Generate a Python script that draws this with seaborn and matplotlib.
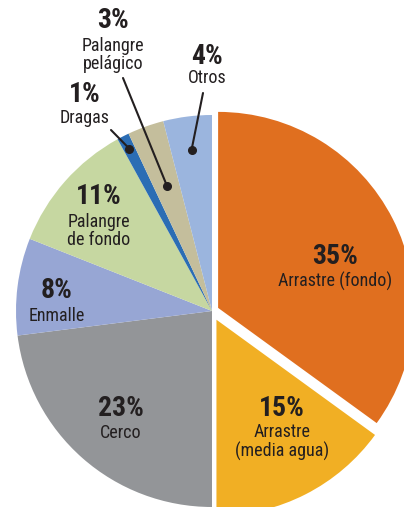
import numpy as np
import matplotlib
matplotlib.use('Agg')
import matplotlib.pyplot as plt
from matplotlib import font_manager as fm
import seaborn as sns

# data
artes = ['Arrastre (fondo)', 'Arrastre\n(media agua)', 'Cerco', 'Enmalle',
         'Palangre\nde fondo', 'Dragas', 'Palangre\npelágico', 'Otros']
porcentajes = [35, 15, 23, 8, 11, 1, 3, 4]
colores = ['#E06F1F', '#F1AF24', '#939598', '#97A6D4',
           '#C6D7A1', '#2B6DB4', '#C4BE9C', '#9BB5DE']
separar = [0.035, 0.05, 0, 0, 0, 0, 0, 0]

sns.set_style('white')

# narrow font if one exists, the original uses a condensed grotesk
fuentes = fm.fontManager.ttflist
nombres = {f.name for f in fuentes}
stretch = 'normal'
if 'Liberation Sans Narrow' in nombres:
    familia = 'Liberation Sans Narrow'
elif 'Roboto Condensed' in nombres:
    familia = 'Roboto Condensed'
elif any(f.name == 'DejaVu Sans' and str(f.stretch) == 'condensed' for f in fuentes):
    familia, stretch = 'DejaVu Sans', 'condensed'
else:
    familia = 'Liberation Sans'
plt.rcParams['font.family'] = [familia, 'DejaVu Sans']
plt.rcParams['font.stretch'] = stretch

W, H = 404, 507
CX, CY, R = 212, 311, 196   # pie centre / radius in pixels

def px(x, y):
    return (x - CX) / R, (CY - y) / R

fig = plt.figure(figsize=(W / 100, H / 100), dpi=100)
ax = fig.add_axes([0, 0, 1, 1])
wedges, _ = ax.pie(porcentajes, colors=colores, explode=separar,
                   startangle=90, counterclock=False, radius=1,
                   wedgeprops=dict(linewidth=0))
ax.set_xlim(-CX / R, (W - CX) / R)
ax.set_ylim(-(H - CY) / R, CY / R)
ax.set_aspect('equal')
ax.axis('off')

ink = '#231F20'
# label positions (pixels): percent line and name line
pos = {
    0: (335, 257, 281),
    1: (282, 409, 442),
    2: (121, 409, 433),
    3: (57, 291, 316),
    4: (99, 196, 231),
    5: (85, 95, 118),
    6: (113, 21, 55),
    7: (207, 56, 78),
}
for i, (x, yp, yn) in pos.items():
    ax.text(*px(x, yp), f'{porcentajes[i]}%', ha='center', va='center',
            fontsize=20, fontweight='bold', color=ink)
    ax.text(*px(x, yn), artes[i], ha='center', va='center',
            fontsize=13, color=ink, linespacing=1.05)

# leader lines for small slices
leaders = {5: (0.93, (111, 130)), 6: (0.68, (123, 78)), 7: (0.83, (203, 93))}
for i, (r, end) in leaders.items():
    w = wedges[i]
    ang = np.deg2rad((w.theta1 + w.theta2) / 2)
    dx, dy = r * np.cos(ang), r * np.sin(ang)
    ex, ey = px(*end)
    ax.plot([dx, ex], [dy, ey], color=ink, lw=1.5)
    ax.plot(dx, dy, 'o', color=ink, ms=5.5)

fig.savefig('out.png', dpi=100)
